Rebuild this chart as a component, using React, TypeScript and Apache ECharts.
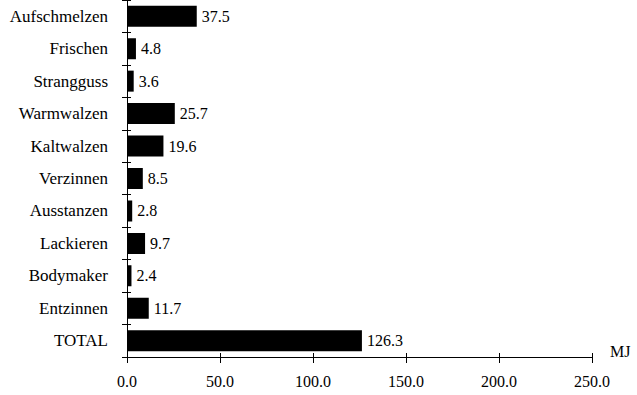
import React, { useEffect, useRef } from "react";
import * as echarts from "echarts";

const categories = [
  "Aufschmelzen",
  "Frischen",
  "Strangguss",
  "Warmwalzen",
  "Kaltwalzen",
  "Verzinnen",
  "Ausstanzen",
  "Lackieren",
  "Bodymaker",
  "Entzinnen",
  "TOTAL",
];
const values = [37.5, 4.8, 3.6, 25.7, 19.6, 8.5, 2.8, 9.7, 2.4, 11.7, 126.3];
const xMin = 0;
const xMax = 250;
const xInterval = 50;
const unitLabel = "MJ";

const FONT = "Liberation Serif";

export default function App() {
  const ref = useRef<HTMLDivElement>(null);
  useEffect(() => {
    if (!ref.current) return;
    const chart = echarts.init(ref.current, undefined, { renderer: "svg" });
    const txt = { fontFamily: FONT, fontSize: 16, color: "#000" };
    chart.setOption({
      animation: false,
      backgroundColor: "#fff",
      grid: { left: 127, right: 45, top: -5.5, bottom: 38, containLabel: false },
      xAxis: [
        {
          type: "value",
          min: xMin,
          max: xMax,
          interval: xInterval,
          position: "bottom",
          name: unitLabel,
          nameLocation: "end",
          nameGap: 18,
          nameTextStyle: { ...txt, verticalAlign: "bottom", padding: [0, 0, -2, 0] },
          axisLine: { show: true, lineStyle: { color: "#000", width: 1 } },
          axisTick: { show: true, length: 6, lineStyle: { color: "#000" } },
          axisLabel: { ...txt, margin: 16, formatter: (v: number) => v.toFixed(1) },
          splitLine: { show: false },
        },
        {
          type: "value",
          min: xMin,
          max: xMax,
          interval: xInterval,
          position: "bottom",
          axisLine: { show: false },
          axisTick: { show: true, inside: true, length: 4, lineStyle: { color: "#000" } },
          axisLabel: { show: false },
          splitLine: { show: false },
        },
      ],
      yAxis: [
        {
          type: "category",
          data: categories,
          inverse: true,
          position: "left",
          axisLine: { show: true, lineStyle: { color: "#000", width: 1 } },
          axisTick: { show: true, length: 5, lineStyle: { color: "#000" } },
          axisLabel: { ...txt, fontSize: 17, margin: 19 },
        },
        {
          type: "category",
          data: categories,
          inverse: true,
          position: "left",
          axisLine: { show: false },
          axisTick: { show: true, inside: true, length: 4, lineStyle: { color: "#000" } },
          axisLabel: { show: false },
        },
      ],
      series: [
        {
          type: "bar",
          data: values,
          barWidth: 21,
          itemStyle: { color: "#000" },
          label: {
            show: true,
            position: "right",
            distance: 5,
            ...txt,
            formatter: (p: any) => Number(p.value).toFixed(1),
          },
        },
      ],
    });
    return () => chart.dispose();
  }, []);
  return (
    <div
      ref={ref}
      style={{ position: "fixed", left: 0, top: 0, width: 637, height: 395, background: "#fff" }}
    />
  );
}
